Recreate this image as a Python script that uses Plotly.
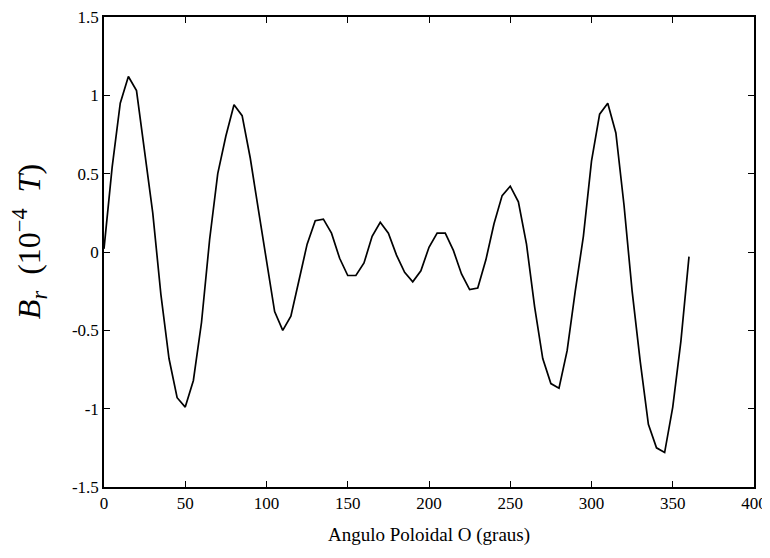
import plotly.graph_objects as go

angle = list(range(0, 365, 5))
br = [0.02, 0.54, 0.95, 1.12, 1.03, 0.65, 0.25, -0.27, -0.68, -0.93,
      -0.99, -0.82, -0.45, 0.08, 0.5, 0.74, 0.94, 0.87, 0.6, 0.27,
      -0.06, -0.38, -0.5, -0.41, -0.18, 0.05, 0.2, 0.21, 0.12, -0.04,
      -0.15, -0.15, -0.07, 0.1, 0.19, 0.12, -0.02, -0.13, -0.19, -0.12,
      0.03, 0.12, 0.12, 0.01, -0.14, -0.24, -0.23, -0.05, 0.18, 0.36,
      0.42, 0.32, 0.05, -0.35, -0.68, -0.84, -0.87, -0.63, -0.25, 0.1,
      0.58, 0.88, 0.95, 0.76, 0.3, -0.25, -0.7, -1.1, -1.25, -1.28,
      -0.99, -0.57, -0.03]

x_ticks = [0, 50, 100, 150, 200, 250, 300, 350, 400]
y_ticks = [-1.5, -1, -0.5, 0, 0.5, 1, 1.5]
y_tick_labels = ["-1.5", "-1", "-0.5", "0", "0.5", "1", "1.5"]

font_family = "Liberation Serif, Times New Roman, serif"

fig = go.Figure()
fig.add_trace(go.Scatter(x=angle, y=br, mode="lines",
                         line=dict(color="black", width=1.7),
                         showlegend=False, hoverinfo="skip"))

fig.update_layout(
    width=762, height=538,
    margin=dict(l=96, r=16, t=9, b=59),
    paper_bgcolor="white", plot_bgcolor="white",
    font=dict(family=font_family, color="black", size=17),
    xaxis=dict(range=[0, 400], tickvals=x_ticks, ticks="inside", ticklen=6,
               tickcolor="black", showline=True, linecolor="black", linewidth=1.5,
               mirror="ticks", showgrid=False, zeroline=False, automargin=False,
               ticklabeloverflow="allow",
               tickfont=dict(size=17, family=font_family),
               title=dict(text="Angulo Poloidal O (graus)",
                          font=dict(size=19, family=font_family), standoff=23)),
    yaxis=dict(range=[-1.5, 1.5], tickvals=y_ticks, ticktext=y_tick_labels,
               ticks="inside", ticklen=6, tickcolor="black", showline=True,
               linecolor="black", linewidth=1.5, mirror="ticks", showgrid=False,
               zeroline=False, automargin=False, ticklabeloverflow="allow",
               tickfont=dict(size=17, family=font_family)),
    annotations=[dict(
        text="<i>B</i><sub><i>r</i></sub>  (10<sup>−4</sup>  <i>T</i>)",
        xref="paper", yref="paper", x=-75 / 650, y=0.521,
        xanchor="center", yanchor="middle", textangle=-90, showarrow=False,
        font=dict(size=32, family=font_family, color="black"))],
)

fig.write_html("out.html")
